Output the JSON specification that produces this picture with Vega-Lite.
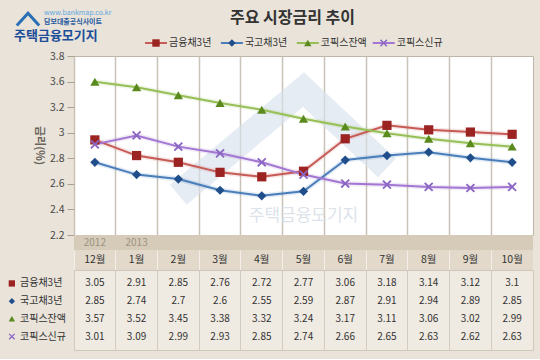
{
  "$schema": "https://vega.github.io/schema/vega-lite/v6.json",
  "background": "#e9e3d9",
  "padding": {"left": 8, "top": 4, "right": 8, "bottom": 8},
  "spacing": 0,
  "bounds": "flush",
  "config": {
    "font": "Noto Sans CJK KR",
    "view": {"stroke": null},
    "concat": {"spacing": 0}
  },
  "datasets": {
    "rates": [
      {"month": "12월", "series": "금융채3년", "value": 3.05},
      {"month": "1월", "series": "금융채3년", "value": 2.91},
      {"month": "2월", "series": "금융채3년", "value": 2.85},
      {"month": "3월", "series": "금융채3년", "value": 2.76},
      {"month": "4월", "series": "금융채3년", "value": 2.72},
      {"month": "5월", "series": "금융채3년", "value": 2.77},
      {"month": "6월", "series": "금융채3년", "value": 3.06},
      {"month": "7월", "series": "금융채3년", "value": 3.18},
      {"month": "8월", "series": "금융채3년", "value": 3.14},
      {"month": "9월", "series": "금융채3년", "value": 3.12},
      {"month": "10월", "series": "금융채3년", "value": 3.1},
      {"month": "12월", "series": "국고채3년", "value": 2.85},
      {"month": "1월", "series": "국고채3년", "value": 2.74},
      {"month": "2월", "series": "국고채3년", "value": 2.7},
      {"month": "3월", "series": "국고채3년", "value": 2.6},
      {"month": "4월", "series": "국고채3년", "value": 2.55},
      {"month": "5월", "series": "국고채3년", "value": 2.59},
      {"month": "6월", "series": "국고채3년", "value": 2.87},
      {"month": "7월", "series": "국고채3년", "value": 2.91},
      {"month": "8월", "series": "국고채3년", "value": 2.94},
      {"month": "9월", "series": "국고채3년", "value": 2.89},
      {"month": "10월", "series": "국고채3년", "value": 2.85},
      {"month": "12월", "series": "코픽스잔액", "value": 3.57},
      {"month": "1월", "series": "코픽스잔액", "value": 3.52},
      {"month": "2월", "series": "코픽스잔액", "value": 3.45},
      {"month": "3월", "series": "코픽스잔액", "value": 3.38},
      {"month": "4월", "series": "코픽스잔액", "value": 3.32},
      {"month": "5월", "series": "코픽스잔액", "value": 3.24},
      {"month": "6월", "series": "코픽스잔액", "value": 3.17},
      {"month": "7월", "series": "코픽스잔액", "value": 3.11},
      {"month": "8월", "series": "코픽스잔액", "value": 3.06},
      {"month": "9월", "series": "코픽스잔액", "value": 3.02},
      {"month": "10월", "series": "코픽스잔액", "value": 2.99},
      {"month": "12월", "series": "코픽스신규", "value": 3.01},
      {"month": "1월", "series": "코픽스신규", "value": 3.09},
      {"month": "2월", "series": "코픽스신규", "value": 2.99},
      {"month": "3월", "series": "코픽스신규", "value": 2.93},
      {"month": "4월", "series": "코픽스신규", "value": 2.85},
      {"month": "5월", "series": "코픽스신규", "value": 2.74},
      {"month": "6월", "series": "코픽스신규", "value": 2.66},
      {"month": "7월", "series": "코픽스신규", "value": 2.65},
      {"month": "8월", "series": "코픽스신규", "value": 2.63},
      {"month": "9월", "series": "코픽스신규", "value": 2.62},
      {"month": "10월", "series": "코픽스신규", "value": 2.63}
    ],
    "watermark": [
      {"month": "2월", "value": 2.56},
      {"month": "5월", "value": 3.5},
      {"month": "7월", "value": 2.8}
    ],
    "years": [
      {"month": "12월", "year": "2012"},
      {"month": "1월", "year": "2013"}
    ]
  },
  "vconcat": [
    {
      "width": 459,
      "height": 52,
      "layer": [
        {
          "data": {"values": [{"t": "주요 시장금리 추이"}]},
          "mark": {"type": "text", "fontSize": 16, "fontWeight": "bold", "color": "#333333", "dx": -11, "dy": -12},
          "encoding": {"text": {"field": "t"}}
        },
        {
          "data": {"values": [{"t": "www.bankmap.co.kr"}]},
          "mark": {"type": "text", "align": "left", "fontSize": 7, "color": "#5ea6e0", "dx": -259.5, "dy": -17},
          "encoding": {"text": {"field": "t"}}
        },
        {
          "data": {"values": [{"t": "담보대출공식사이트"}]},
          "mark": {"type": "text", "align": "left", "fontSize": 7, "fontWeight": "bold", "color": "#1f5aa0", "dx": -259.5, "dy": -8.5},
          "encoding": {"text": {"field": "t"}}
        },
        {
          "data": {"values": [{"t": "주택금융모기지"}]},
          "mark": {"type": "text", "align": "left", "fontSize": 13, "fontWeight": "bold", "color": "#1d4f99", "dx": -289.5, "dy": 6},
          "encoding": {"text": {"field": "t"}}
        },
        {
          "data": {"values": [{"t": "logo"}]},
          "mark": {"type": "point", "shape": "M-1,0.5L0,-0.6L1,0.5", "filled": false, "size": 500, "strokeWidth": 3, "color": "#2a6fb5", "opacity": 1, "xOffset": -275.5, "yOffset": -10},
          "encoding": {}
        },
        {
          "data": {"name": "rates"},
          "transform": [{"filter": "datum.month === '12월'"}],
          "encoding": {
            "x": {"field": "series", "type": "nominal", "scale": {"type": "point", "domain": ["금융채3년", "국고채3년", "코픽스잔액", "코픽스신규"], "range": [82, 309.7], "padding": 0}, "axis": null}
          },
          "layer": [
            {
              "mark": {"type": "point", "shape": "stroke", "size": 484, "strokeWidth": 2, "filled": false, "opacity": 1, "yOffset": 13},
              "encoding": {"stroke": {"field": "series", "type": "nominal", "scale": {"domain": ["금융채3년", "국고채3년", "코픽스잔액", "코픽스신규"], "range": ["#c65a55", "#4a7ebb", "#96bf55", "#a276d2"]}, "legend": null}}
            },
            {
              "mark": {"type": "point", "filled": true, "size": 55, "strokeWidth": 0, "opacity": 1, "yOffset": 13},
              "encoding": {
                "fill": {"field": "series", "type": "nominal", "scale": {"domain": ["금융채3년", "국고채3년", "코픽스잔액", "코픽스신규"], "range": ["#9b2423", "#1f4e8a", "#5a8a1e", "#8a66c2"]}, "legend": null},
                "shape": {"field": "series", "type": "nominal", "scale": {"domain": ["금융채3년", "국고채3년", "코픽스잔액", "코픽스신규"], "range": ["square", "diamond", "triangle-up", "M-1,-0.72L-0.72,-1L0,-0.28L0.72,-1L1,-0.72L0.28,0L1,0.72L0.72,1L0,0.28L-0.72,1L-1,0.72L-0.28,0Z"]}, "legend": null}
              }
            },
            {
              "mark": {"type": "text", "align": "left", "dx": 13, "dy": 13, "fontSize": 10, "color": "#333333"},
              "encoding": {"text": {"field": "series"}}
            }
          ]
        }
      ]
    },
    {
      "width": 459,
      "height": 179,
      "view": {"fill": "#ffffff", "stroke": "#bdb5a8"},
      "encoding": {
        "x": {"field": "month", "type": "ordinal", "scale": {"type": "band", "domain": ["12월", "1월", "2월", "3월", "4월", "5월", "6월", "7월", "8월", "9월", "10월"], "paddingInner": 0, "paddingOuter": 0}, "axis": {"labels": false, "ticks": false, "domain": false, "grid": true, "bandPosition": 0, "gridColor": "#c9c2b6", "gridWidth": 1.5, "title": null}},
        "y": {"field": "value", "type": "quantitative", "scale": {"domain": [2.2, 3.8], "nice": false, "zero": false}, "axis": {"values": [2.2, 2.428571, 2.657143, 2.885714, 3.114286, 3.342857, 3.571429, 3.8], "labelExpr": "datum.value < 2.3 ? '2.2' : datum.value < 2.5 ? '2.4' : datum.value < 2.7 ? '2.6' : datum.value < 2.95 ? '2.8' : datum.value < 3.2 ? '3' : datum.value < 3.45 ? '3.2' : datum.value < 3.7 ? '3.6' : '3.8'", "title": null, "labelFontSize": 10.5, "labelColor": "#4a4a4a", "tickColor": "#a9a196", "tickSize": 7, "domain": false, "grid": false, "labelPadding": 3}}
      },
      "layer": [
        {
          "data": {"name": "watermark"},
          "mark": {"type": "line", "strokeWidth": 26, "color": "#d9e2ec", "opacity": 0.65, "strokeJoin": "miter", "strokeCap": "butt"}
        },
        {
          "data": {"values": [{"month": "5월", "value": 2.37, "t": "주택금융모기지"}]},
          "mark": {"type": "text", "fontSize": 17, "color": "#dde3ea"},
          "encoding": {"text": {"field": "t"}}
        },
        {
          "data": {"values": [{"t": "금리(%)"}]},
          "mark": {"type": "text", "angle": 90, "fontSize": 11, "fontWeight": "bold", "color": "#6b645b", "xOffset": -264.5},
          "encoding": {"x": null, "y": null, "text": {"field": "t"}}
        },
        {
          "data": {"name": "rates"},
          "mark": {"type": "line", "strokeWidth": 5, "opacity": 0.15},
          "encoding": {"stroke": {"field": "series", "type": "nominal", "scale": {"domain": ["금융채3년", "국고채3년", "코픽스잔액", "코픽스신규"], "range": ["#c65a55", "#4a7ebb", "#96bf55", "#a276d2"]}, "legend": null}}
        },
        {
          "data": {"name": "rates"},
          "mark": {"type": "line", "strokeWidth": 2},
          "encoding": {"stroke": {"field": "series", "type": "nominal", "scale": {"domain": ["금융채3년", "국고채3년", "코픽스잔액", "코픽스신규"], "range": ["#c65a55", "#4a7ebb", "#96bf55", "#a276d2"]}, "legend": null}}
        },
        {
          "data": {"name": "rates"},
          "mark": {"type": "point", "filled": true, "size": 85, "strokeWidth": 0, "opacity": 1},
          "encoding": {
            "fill": {"field": "series", "type": "nominal", "scale": {"domain": ["금융채3년", "국고채3년", "코픽스잔액", "코픽스신규"], "range": ["#9b2423", "#1f4e8a", "#5a8a1e", "#8a66c2"]}, "legend": null},
            "shape": {"field": "series", "type": "nominal", "scale": {"domain": ["금융채3년", "국고채3년", "코픽스잔액", "코픽스신규"], "range": ["square", "diamond", "triangle-up", "M-1,-0.72L-0.72,-1L0,-0.28L0.72,-1L1,-0.72L0.28,0L1,0.72L0.72,1L0,0.28L-0.72,1L-1,0.72L-0.28,0Z"]}, "legend": null}
          }
        }
      ]
    },
    {
      "width": 459,
      "height": 15,
      "view": {"fill": "#d6cbb8", "stroke": null},
      "data": {"name": "years"},
      "mark": {"type": "text", "fontSize": 10, "color": "#9c9282"},
      "encoding": {
        "x": {"field": "month", "type": "ordinal", "scale": {"type": "band", "domain": ["12월", "1월", "2월", "3월", "4월", "5월", "6월", "7월", "8월", "9월", "10월"], "paddingInner": 0, "paddingOuter": 0}, "axis": null},
        "text": {"field": "year"}
      }
    },
    {
      "width": 459,
      "height": 20,
      "view": {"fill": "#e2d9ca", "stroke": null},
      "data": {"name": "rates"},
      "transform": [{"filter": "datum.series === '금융채3년'"}],
      "mark": {"type": "text", "fontSize": 10.5, "color": "#333333"},
      "encoding": {
        "x": {"field": "month", "type": "ordinal", "scale": {"type": "band", "domain": ["12월", "1월", "2월", "3월", "4월", "5월", "6월", "7월", "8월", "9월", "10월"], "paddingInner": 0, "paddingOuter": 0}, "axis": {"labels": false, "ticks": false, "domain": false, "grid": true, "bandPosition": 0, "gridColor": "#f3efe8", "title": null}},
        "text": {"field": "month"}
      }
    },
    {
      "width": 459,
      "height": 80,
      "view": {"fill": "#efeae2", "stroke": "#cfc7ba"},
      "data": {"name": "rates"},
      "encoding": {
        "x": {"field": "month", "type": "ordinal", "scale": {"type": "band", "domain": ["12월", "1월", "2월", "3월", "4월", "5월", "6월", "7월", "8월", "9월", "10월"], "paddingInner": 0, "paddingOuter": 0}, "axis": {"labels": false, "ticks": false, "domain": false, "grid": true, "bandPosition": 0, "gridColor": "#d3cbbf", "title": null}},
        "y": {"field": "series", "type": "nominal", "scale": {"type": "band", "domain": ["금융채3년", "국고채3년", "코픽스잔액", "코픽스신규"], "paddingInner": 0, "paddingOuter": 0.26}, "axis": null}
      },
      "layer": [
        {
          "mark": {"type": "text", "fontSize": 10, "color": "#333333"},
          "encoding": {"text": {"field": "value", "type": "quantitative", "format": ".2~f"}}
        },
        {
          "transform": [{"filter": "datum.month === '12월'"}],
          "mark": {"type": "text", "align": "left", "fontSize": 10, "color": "#333333", "dx": -74.85},
          "encoding": {"text": {"field": "series"}}
        },
        {
          "transform": [{"filter": "datum.month === '12월'"}],
          "mark": {"type": "point", "filled": true, "size": 40, "strokeWidth": 0, "opacity": 1, "xOffset": -83},
          "encoding": {
            "fill": {"field": "series", "type": "nominal", "scale": {"domain": ["금융채3년", "국고채3년", "코픽스잔액", "코픽스신규"], "range": ["#9b2423", "#1f4e8a", "#5a8a1e", "#8a66c2"]}, "legend": null},
            "shape": {"field": "series", "type": "nominal", "scale": {"domain": ["금융채3년", "국고채3년", "코픽스잔액", "코픽스신규"], "range": ["square", "diamond", "triangle-up", "M-1,-0.72L-0.72,-1L0,-0.28L0.72,-1L1,-0.72L0.28,0L1,0.72L0.72,1L0,0.28L-0.72,1L-1,0.72L-0.28,0Z"]}, "legend": null}
          }
        }
      ]
    }
  ]
}
